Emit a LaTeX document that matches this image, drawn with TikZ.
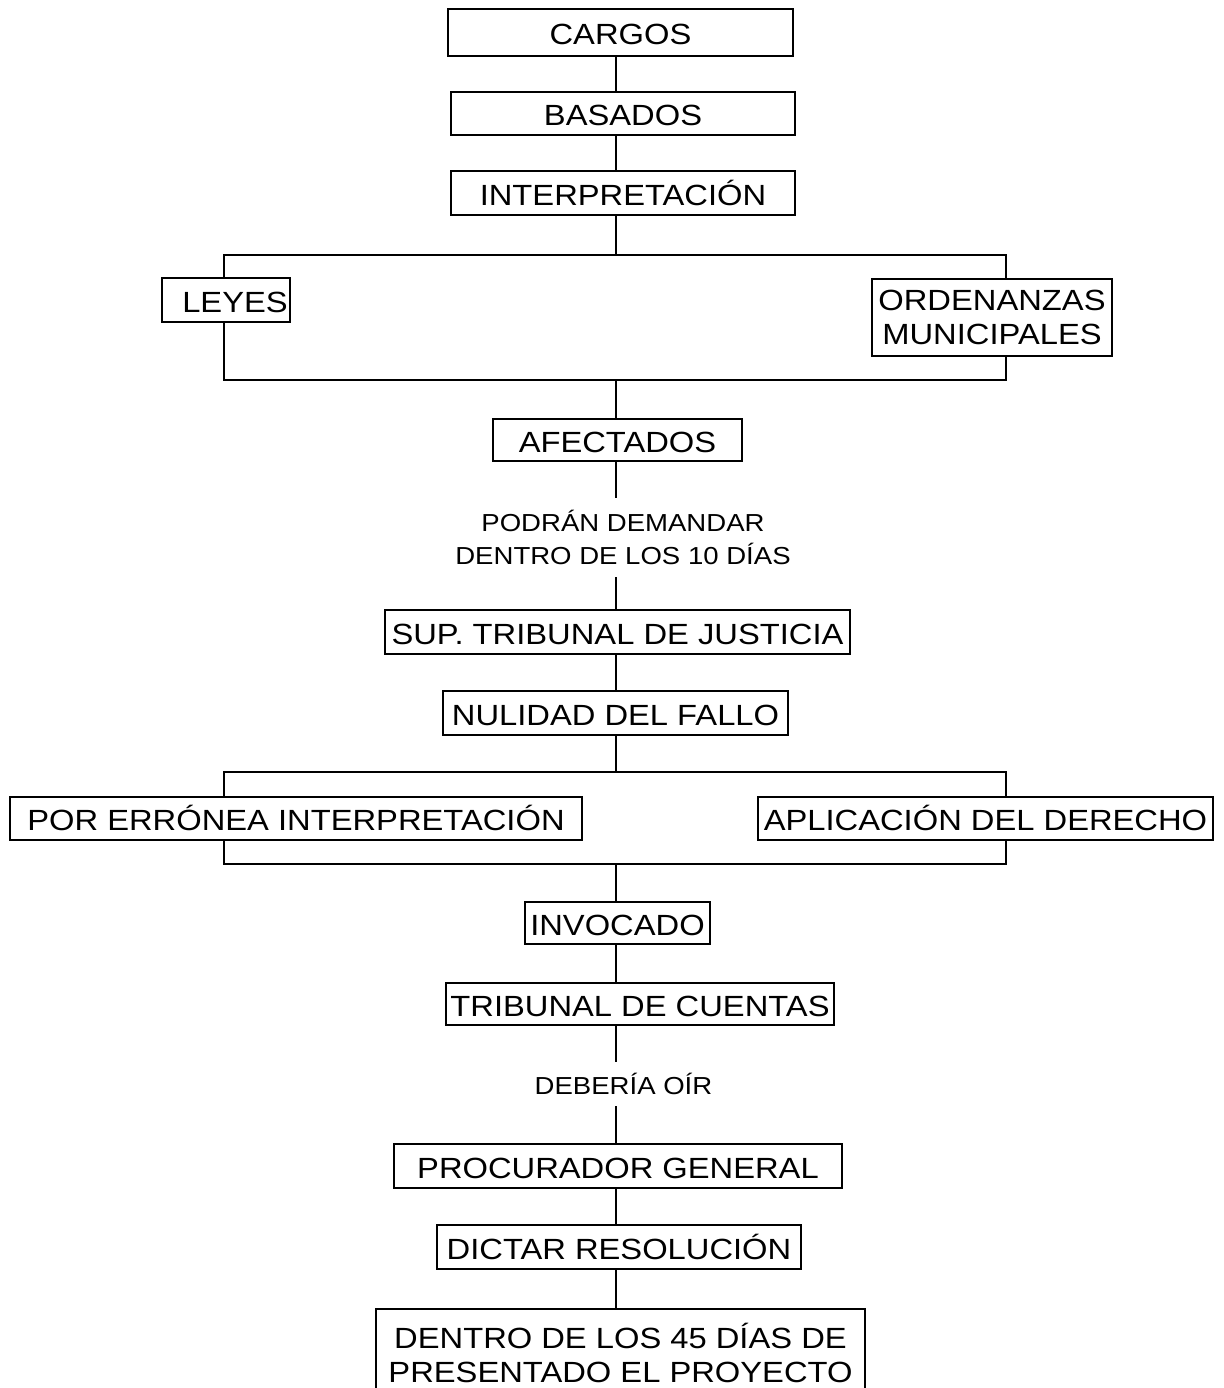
\documentclass[tikz,border=0pt]{standalone}
\usepackage{fontspec}
\setmainfont[FakeStretch=1.12]{Liberation Sans}
\usetikzlibrary{backgrounds}
\begin{document}
\begin{tikzpicture}[x=0.5pt,y=-0.5pt,
  frame/.style={draw, fill=white, line width=1pt, inner sep=0pt},
  box/.style={frame, font=\fontsize{14.6}{17}\selectfont, text height=12.2pt, text depth=0pt},
  boxml/.style={frame, align=center, font=\fontsize{14.6}{17}\selectfont},
  sz/.style 2 args={minimum width=#1*0.5pt, minimum height=#2*0.5pt},
  note/.style={inner sep=0pt, align=center, font=\fontsize{12.3}{16.5}\selectfont},
  wire/.style={line width=1.1pt}]
\useasboundingbox (0,0) rectangle (1223,1388);

% spine of the chart
\coordinate (sp) at (616,0);

% boxes
\node[box, sz={345}{47}] (cargos) at (620.5,32.5) {CARGOS};
\node[box, sz={344}{43}] (basados) at (623,113.5) {BASADOS};
\node[box, sz={344}{44}] (interp) at (623,193) {INTERPRETACIÓN};
\node[box, sz={128}{44}] (leyes) at (226,300) {\hspace*{9pt}LEYES};
\node[boxml, sz={240}{77}] (orden) at (992,317.5) {ORDENANZAS\\MUNICIPALES};
\node[box, sz={249}{42}] (afect) at (617.5,440) {AFECTADOS};
\node[note] (plazo) at (623,537) {PODRÁN DEMANDAR\\DENTRO DE LOS 10 DÍAS};
\node[box, sz={465}{44}] (sup) at (617.5,632) {SUP. TRIBUNAL DE JUSTICIA};
\node[box, sz={345}{44}] (nulidad) at (615.5,713) {NULIDAD DEL FALLO};
\node[box, sz={572}{43}] (erronea) at (296,818.5) {POR ERRÓNEA INTERPRETACIÓN};
\node[box, sz={455}{43}] (aplic) at (985.5,818.5) {APLICACIÓN DEL DERECHO};
\node[box, sz={185}{42}] (invoc) at (617.5,923) {INVOCADO};
\node[box, sz={388}{42}] (tcuentas) at (640,1004) {TRIBUNAL DE CUENTAS};
\node[note, text height=8.8pt, text depth=0pt] (oir) at (623.5,1086) {DEBERÍA OÍR};
\node[box, sz={448}{44}] (procur) at (618,1166) {PROCURADOR GENERAL};
\node[box, sz={364}{44}] (dictar) at (619,1247) {DICTAR RESOLUCIÓN};
\node[boxml, sz={489}{88}] (plazo45) at (620.5,1353) {DENTRO DE LOS 45 DÍAS DE\\PRESENTADO EL PROYECTO};

% bracket corners and free ends around the notes
\coordinate (b1tl) at (224,255);
\coordinate (b1br) at (1006,380);
\coordinate (b2tl) at (224,772);
\coordinate (b2br) at (1006,864);
\coordinate (plazo-in) at (616,498);
\coordinate (plazo-out) at (616,577);
\coordinate (oir-in) at (616,1062);
\coordinate (oir-out) at (616,1106);

\begin{scope}[on background layer]
  \fill[white] (0,0) rectangle (1223,1388);
  \draw[wire] (cargos.south -| sp) -- (basados.north -| sp);
  \draw[wire] (basados.south -| sp) -- (interp.north -| sp);
  \draw[wire] (interp.south -| sp) -- (sp |- b1tl);
  \draw[wire] (b1tl) rectangle (b1br);
  \draw[wire] (sp |- b1br) -- (afect.north -| sp);
  \draw[wire] (afect.south -| sp) -- (plazo-in);
  \draw[wire] (plazo-out) -- (sup.north -| sp);
  \draw[wire] (sup.south -| sp) -- (nulidad.north -| sp);
  \draw[wire] (nulidad.south -| sp) -- (sp |- b2tl);
  \draw[wire] (b2tl) rectangle (b2br);
  \draw[wire] (sp |- b2br) -- (invoc.north -| sp);
  \draw[wire] (invoc.south -| sp) -- (tcuentas.north -| sp);
  \draw[wire] (tcuentas.south -| sp) -- (oir-in);
  \draw[wire] (oir-out) -- (procur.north -| sp);
  \draw[wire] (procur.south -| sp) -- (dictar.north -| sp);
  \draw[wire] (dictar.south -| sp) -- (plazo45.north -| sp);
\end{scope}
\end{tikzpicture}
\end{document}
